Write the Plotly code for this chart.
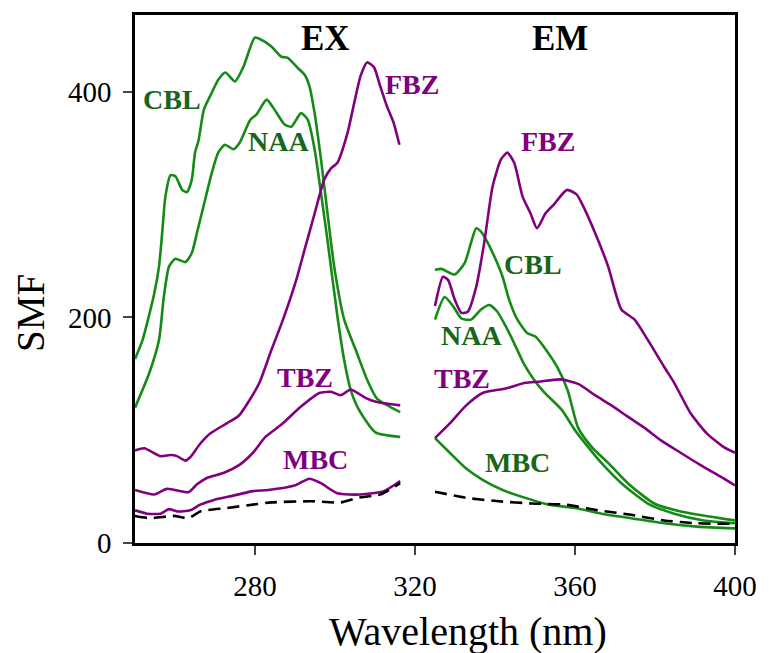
import plotly.graph_objects as go

# ---- data (wavelength nm, SMF) ----
CBL_EX_x = [250, 251.9, 254.8, 256.0, 256.8, 257.6, 258.9, 260.1, 261.8, 263.0, 264.2, 265.0, 265.9, 267.2, 268.9, 270.9, 272.6, 275.0, 277.1, 280.0, 282.1, 284.1, 286.6, 288.2, 290.7, 292.4, 293.6, 294.9, 296.5, 298.1, 299.8, 302.3, 305.2, 308.0, 310.5, 316.3]
CBL_EX_y = [163, 180, 221, 245, 275, 307, 326, 325, 313, 311, 322, 346, 357, 384, 397, 411, 417, 409, 422, 448, 445, 440, 431, 430, 421, 415, 405, 381, 340, 293, 245, 198, 171, 145, 128, 116]

NAA_EX_x = [250, 253.5, 256.0, 257.2, 258.5, 260.1, 262.6, 264.2, 265.5, 267.1, 269.2, 270.8, 272.5, 274.6, 276.2, 278.8, 280.4, 282.9, 284.9, 287.4, 289.1, 291.5, 293.2, 294.9, 296.5, 298.1, 300.6, 302.3, 303.9, 306.0, 310.1, 316.3]
NAA_EX_y = [120, 150, 180, 218, 245, 252, 249, 257, 275, 298, 328, 346, 353, 349, 355, 375, 380, 393, 384, 371, 369, 381, 375, 349, 310, 269, 201, 162, 136, 118, 98, 94]

FBZ_EX_x = [250, 252.3, 256.4, 258.9, 260.5, 262.6, 263.8, 266.3, 268.8, 272.9, 276.0, 278.7, 281.1, 284.1, 287.0, 290.3, 292.4, 294.9, 297.3, 299.0, 300.6, 303.1, 304.8, 306.4, 308.0, 309.7, 311.3, 313.0, 314.7, 316.1]
FBZ_EX_y = [82, 84, 77, 78, 77, 73, 76, 88, 97, 106, 113, 127, 142, 171, 198, 233, 260, 292, 322, 332, 337, 363, 390, 414, 426, 422, 405, 387, 372, 353]

TBZ_EX_x = [250, 254.8, 258.0, 263.4, 265.5, 268.2, 272.1, 276.0, 279.5, 282.6, 286.6, 291.5, 296.1, 299.0, 301.4, 303.9, 305.6, 308.0, 310.5, 316.3]
TBZ_EX_y = [47, 43, 48, 45, 52, 58, 62, 69, 80, 94, 105, 121, 133, 134, 131, 136, 133, 128, 125, 122]

MBC_EX_x = [250, 253.1, 256.4, 258.5, 260.5, 263.8, 266.3, 269.6, 274.6, 279.5, 283.3, 289.9, 293.6, 296.5, 300.6, 306.4, 312.2, 316.3]
MBC_EX_y = [29, 26, 26, 30, 28, 29, 34, 38, 42, 46, 47, 51, 57, 53, 44, 43, 46, 55]

BLK_EX_x = [250, 253.9, 259.7, 263.4, 266.3, 272.9, 279.5, 284.1, 294.0, 301.4, 305.6, 311.3, 316.3]
BLK_EX_y = [24, 22, 24, 22, 28, 31, 34, 36, 37, 36, 40, 43, 53]

FBZ_EM_x = [325, 327.0, 328.3, 329.9, 331.6, 333.2, 335.3, 337.3, 339.4, 341.5, 343.1, 344.8, 346.9, 348.9, 350.5, 352.6, 354.7, 358.0, 360.4, 361.7, 365.0, 368.3, 371.6, 374.9, 378.2, 382.3, 384.8, 388.9, 393.0, 397.2, 400]
FBZ_EM_y = [210, 236, 233, 216, 204, 205, 227, 266, 316, 340, 346, 337, 307, 292, 279, 292, 300, 313, 309, 301, 275, 245, 207, 198, 180, 156, 142, 115, 97, 85, 80]

CBL_EM_x = [325, 326.6, 329.9, 332.4, 334.0, 335.3, 336.5, 338.2, 340.2, 341.9, 343.5, 345.6, 348.1, 350.1, 353.0, 355.7, 358.2, 360.8, 364.2, 368.3, 373.2, 379.8, 386.4, 400]
CBL_EM_y = [242, 243, 238, 248, 266, 279, 276, 266, 251, 236, 216, 198, 186, 183, 170, 155, 135, 102, 85, 71, 53, 35, 28, 20]

NAA_EM_x = [325, 327.4, 329.5, 331.6, 334.0, 336.5, 338.6, 340.6, 342.7, 344.8, 347.2, 349.7, 352.2, 356.7, 360.0, 363.3, 366.6, 371.6, 378.2, 384.8, 392.2, 400]
NAA_EM_y = [198, 218, 210, 199, 198, 207, 211, 205, 192, 177, 159, 145, 134, 118, 100, 85, 71, 53, 35, 26, 20, 17.5]

TBZ_EM_x = [325, 328.7, 332.8, 336.9, 342.7, 347.6, 350.9, 356.3, 360.8, 365.0, 369.1, 373.2, 377.4, 381.5, 386.4, 391.4, 396.3, 400]
TBZ_EM_y = [93, 106, 122, 133, 137, 142, 143, 145, 141, 131, 122, 112, 102, 91, 80, 69, 59, 51]

MBC_EM_x = [325, 328.7, 332.8, 336.9, 341.9, 347.6, 353.4, 360.0, 366.6, 374.0, 382.3, 390.5, 400]
MBC_EM_y = [93, 80, 66, 56, 47, 40, 34, 31, 26, 22, 17.5, 14.5, 13]

BLK_EM_x = [325, 332.8, 341.0, 349.3, 357.5, 365.8, 374.0, 382.3, 390.5, 400]
BLK_EM_y = [45.5, 40, 37, 35, 34, 29, 25, 20, 17.5, 17]

x_ticks = [280, 320, 360, 400]
y_ticks = [0, 200, 400]

# labels: (text, x, y, kind)
LABELS = [("CBL", 259.3, 393, "g"), ("NAA", 285.8, 356, "g"), ("FBZ", 319.2, 406, "p"),
          ("TBZ", 292.4, 147, "p"), ("MBC", 295.2, 74, "p"),
          ("FBZ", 353.3, 356, "p"), ("CBL", 349.4, 247, "g"), ("NAA", 334.0, 184, "g"),
          ("TBZ", 331.8, 146, "p"), ("MBC", 345.7, 71, "g")]
HEADS = [("EX", 297.6, 447), ("EM", 356.3, 447)]

GREEN = "#168a16"
PURPLE = "#800080"
GREEN_TXT = "#17661a"
FONT = "Liberation Serif"

fig = go.Figure()

def add(x, y, color, dash="solid"):
    fig.add_trace(go.Scatter(x=x, y=y, mode="lines", showlegend=False,
                             line=dict(color=color, width=2.6, dash=dash,
                                       shape="spline", smoothing=0.6)))

for xs, ys in [(CBL_EX_x, CBL_EX_y), (NAA_EX_x, NAA_EX_y), (CBL_EM_x, CBL_EM_y),
               (NAA_EM_x, NAA_EM_y), (MBC_EM_x, MBC_EM_y)]:
    add(xs, ys, GREEN)
for xs, ys in [(FBZ_EX_x, FBZ_EX_y), (TBZ_EX_x, TBZ_EX_y), (MBC_EX_x, MBC_EX_y),
               (FBZ_EM_x, FBZ_EM_y), (TBZ_EM_x, TBZ_EM_y)]:
    add(xs, ys, PURPLE)
for xs, ys in [(BLK_EX_x, BLK_EX_y), (BLK_EM_x, BLK_EM_y)]:
    add(xs, ys, "black", dash="12px,7px")

for t, x, y, k in LABELS:
    fig.add_annotation(x=x, y=y, text="<b>%s</b>" % t, showarrow=False,
                       font=dict(family=FONT, size=28,
                                 color=GREEN_TXT if k == "g" else PURPLE))
for t, x, y in HEADS:
    fig.add_annotation(x=x, y=y, text="<b>%s</b>" % t, showarrow=False,
                       font=dict(family=FONT, size=35, color="black"))

# axis titles
fig.add_annotation(xref="paper", yref="paper", x=0.555, y=-0.168,
                   text="Wavelength (nm)", showarrow=False,
                   xanchor="center", yanchor="middle",
                   font=dict(family=FONT, size=40, color="black"))
fig.add_annotation(xref="paper", yref="paper", x=-0.173, y=0.436,
                   text="SMF", showarrow=False, textangle=-90,
                   xanchor="center", yanchor="middle",
                   font=dict(family=FONT, size=39, color="black"))

fig.update_layout(
    width=769, height=653,
    margin=dict(l=135, r=27, t=15, b=110),
    paper_bgcolor="white", plot_bgcolor="white",
    font=dict(family=FONT, color="black"),
    xaxis=dict(range=[250, 400], tickvals=x_ticks, ticks="outside", ticklen=9,
               tickwidth=2, showline=True, linewidth=2.5, linecolor="black",
               mirror=True, showgrid=False, zeroline=False,
               ticklabelstandoff=6,
               tickfont=dict(family=FONT, size=29)),
    yaxis=dict(range=[0, 468], tickvals=y_ticks, ticks="outside", ticklen=9,
               tickwidth=2, showline=True, linewidth=2.5, linecolor="black",
               mirror=True, showgrid=False, zeroline=False,
               ticklabelstandoff=6,
               tickfont=dict(family=FONT, size=29)),
)

fig.write_html("out.html")
